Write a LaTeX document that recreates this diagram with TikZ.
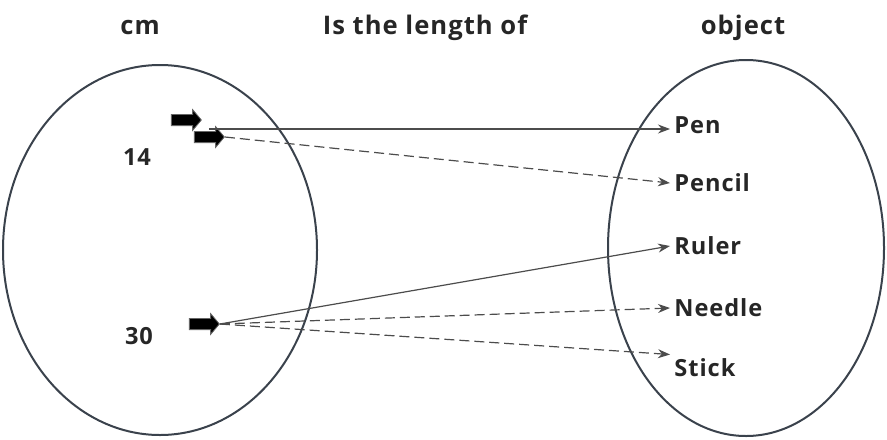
\documentclass[tikz,border=0pt]{standalone}
\usepackage{fontspec}
\setmainfont{Open Sans}[LetterSpace=4]
\usetikzlibrary{shapes.arrows,arrows.meta}
\definecolor{rim}{RGB}{58,66,76}

\begin{document}
\begin{tikzpicture}[x=0.5pt,y=-0.5pt,
    title/.style={font=\fontsize{12.8}{15}\selectfont\bfseries,text=black!85},
    lbl/.style={font=\fontsize{11.8}{14}\selectfont\bfseries,text=black!85,anchor=west,inner sep=2pt},
    blockarrow/.style={single arrow,fill=black,draw=black!60,minimum height=15pt,inner sep=2.6pt,
        single arrow head extend=2.4pt,single arrow tip angle=100},
    link/.style={draw=black!70,line width=0.6pt,-{Stealth[length=6pt,width=4.5pt]}},
    dashedlink/.style={link,dash pattern=on 5pt off 2.5pt}]
        \useasboundingbox (0,0) rectangle (887,439);
        \draw[line width=1pt,draw=rim] (160,250) ellipse (157 and 185);
        \draw[line width=1pt,draw=rim] (746,248) ellipse (138 and 188);
        \node[title] (tcm) at (140,28) {cm};
        \node[title] (tlen) at (425,28) {Is the length of};
        \node[title] (tobj) at (743,28) {object};
        \node[lbl,anchor=center] (n14) at (137,157) {14};
        \node[lbl,anchor=center] (n30) at (139,336) {30};
        % little arrow marks on the left
        \node[blockarrow] (a14a) at (184,120) {};
        \node[blockarrow] (a14b) at (207,137) {};
        \node[blockarrow] (a30) at (202,324) {};
        \node[lbl] (pen) at (670,125) {Pen};
        \node[lbl] (pencil) at (670,183) {Pencil};
        \node[lbl] (ruler) at (670,246) {Ruler};
        \node[lbl] (needle) at (670,308) {Needle};
        \node[lbl] (stick) at (670,368) {Stick};
        \draw[link] (a14b.tip) ++(-16,-8) coordinate (s14) -- (s14 -| pen.west);
        \draw[dashedlink] (a14b.tip) -- (pencil.west);
        \draw[link] (a30.tip) -- (ruler.west);
        \draw[dashedlink] (a30.tip) -- (needle.west);
        \draw[dashedlink] (a30.tip) -- (stick.north west);
\end{tikzpicture}
\end{document}
